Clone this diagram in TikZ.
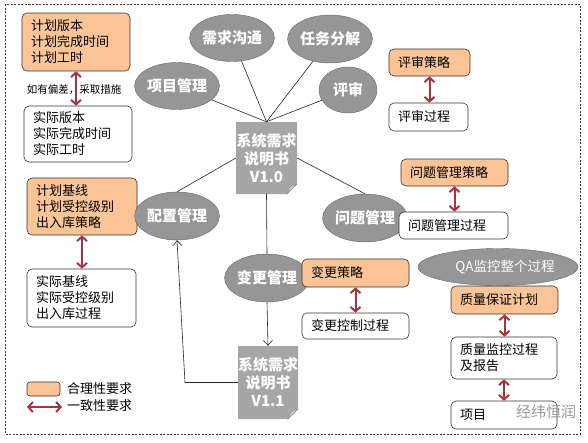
\documentclass[tikz,border=0pt]{standalone}
\usepackage{fontspec}
\setmainfont{Noto Sans CJK SC}
\usetikzlibrary{shapes.geometric,arrows.meta}
\definecolor{planorange}{RGB}{250,196,150}
\definecolor{ellgray}{RGB}{150,150,150}
\definecolor{docgray}{RGB}{166,166,166}
\definecolor{foldgray}{RGB}{208,208,208}
\definecolor{consred}{RGB}{168,50,62}
\tikzset{
  box/.style={draw=black!80,rounded corners=5pt,line width=0.6pt,align=left,inner xsep=9pt,inner ysep=2pt,font=\fontsize{13}{16}\selectfont},
  plan/.style={box,fill=planorange},
  real/.style={box,fill=white},
  func/.style={ellipse,draw=black!60,fill=ellgray,text=white,inner sep=0pt,font=\bfseries\fontsize{15}{17}\selectfont},
  doc/.style={minimum width=61pt,minimum height=72pt,inner sep=0pt,align=center,text=white,
    font=\bfseries\fontsize{15}{18}\selectfont,
    path picture={
      \fill[docgray] (path picture bounding box.north west) -- (path picture bounding box.north east)
        -- ([yshift=10pt]path picture bounding box.south east) -- ([xshift=-10pt]path picture bounding box.south east)
        -- (path picture bounding box.south west) -- cycle;
      \fill[foldgray,draw=black!45,line width=0.4pt] ([yshift=10pt]path picture bounding box.south east)
        -- ([xshift=-10pt]path picture bounding box.south east) -- ([shift={(-7pt,7pt)}]path picture bounding box.south east) -- cycle;}},
  cons/.style={draw=consred,line width=2pt,{Straight Barb[length=4.5pt,width=10pt]}-{Straight Barb[length=4.5pt,width=10pt]}},
  link/.style={draw=black!85,line width=0.6pt},
}
\begin{document}
\begin{tikzpicture}[x=1pt,y=-1pt]
\useasboundingbox (0,0) rectangle (588,442);
\draw[black!80,dash pattern=on 2pt off 1.5pt] (5,4) rectangle (580,434);
% left column
\node[plan,text width=90pt,minimum height=58pt] (jhbb) at (76,42) {计划版本\\计划完成时间\\计划工时};
\node[real,text width=90pt,minimum height=56pt] (sjbb) at (78,134) {实际版本\\实际完成时间\\实际工时};
\node[font=\fontsize{10.5}{12}\selectfont,inner sep=0pt] (pclabel) at (74,90) {如有偏差，采取措施};
\node[plan,text width=92pt,minimum height=57pt] (jhjx) at (82,206.5) {计划基线\\计划受控级别\\出入库策略};
\node[real,text width=91pt,minimum height=58pt] (sjjx) at (81.5,298) {实际基线\\实际受控级别\\出入库过程};
% ellipses round the spec
\node[func,minimum width=68pt,minimum height=47pt] (xmgl) at (177,86) {项目管理};
\node[func,minimum width=67pt,minimum height=47pt] (xqgt) at (232,38) {需求沟通};
\node[func,minimum width=66pt,minimum height=48pt] (rwfj) at (330,39) {任务分解};
\node[func,minimum width=58pt,minimum height=46pt] (ps) at (348,90) {评审};
\node[func,minimum width=69pt,minimum height=48pt] (pzgl) at (177,216) {配置管理};
\node[func,minimum width=66pt,minimum height=48pt] (wtgl) at (365,218) {问题管理};
\node[func,minimum width=64pt,minimum height=48pt] (bggl) at (267,278) {变更管理};
\node[doc] (v10) at (266.5,158) {系统需求\\说明书\\V1.0};
\node[doc,minimum width=60pt,minimum height=73pt] (v11) at (268,382.5) {系统需求\\说明书\\V1.1};
% right side
\node[plan,text width=63pt,minimum height=27pt] (psd) at (429.5,62.5) {评审策略};
\node[real,text width=61pt,minimum height=28pt] (psgc) at (428.5,117) {评审过程};
\node[plan,text width=89pt,minimum height=27pt] (wtcl) at (454.5,172.5) {问题管理策略};
\node[real,text width=91pt,minimum height=27pt] (wtgc) at (453.5,225.5) {问题管理过程};
\node[plan,text width=89pt,minimum height=28pt] (bgcl) at (355.5,273) {变更策略};
\node[real,text width=89pt,minimum height=26pt] (bggc) at (355.5,326) {变更控制过程};
\node[func,minimum width=150pt,minimum height=37pt,font=\fontsize{13.5}{16}\selectfont] (qa) at (498,267) {\hspace*{14pt}QA监控整个过程};
\node[plan,text width=89pt,minimum height=28pt] (zlbz) at (504.5,300) {质量保证计划};
\node[real,text width=88pt,minimum height=42pt] (zljk) at (504,358) {质量监控过程\\及报告};
\node[real,text width=88pt,minimum height=28pt] (xmbg) at (504,415) {项目};
\node[text=black!40,font=\fontsize{15}{17}\selectfont,inner sep=0pt] (wm) at (546,412) {经纬恒润};
% legend
\node[box,fill=planorange,minimum width=33pt,minimum height=14pt,inner sep=0pt,rounded corners=3pt] (lgbox) at (43.5,389) {};
\node[anchor=west,font=\fontsize{13}{15}\selectfont,inner sep=0pt] (lgt1) at (67,389) {合理性要求};
\coordinate (lga) at (27,407);
\coordinate (lgb) at (62,407);
\node[anchor=west,font=\fontsize{13}{15}\selectfont,inner sep=0pt] (lgt2) at (67,406) {一致性要求};
% connectors
\draw[link] (xmgl) -- (v10.north);
\draw[link] (xqgt) -- (v10.north);
\draw[link] (rwfj) -- (v10.north);
\draw[link] (ps) -- (v10.north);
\draw[link] (v10.west) -- (pzgl.north);
\draw[link] (v10.east) -- (wtgl.north);
\draw[link] (v10.south) -- (bggl.north);
\draw[link,-{Straight Barb[length=5pt,width=9pt]}] (bggl.south) -- (v11.north);
\coordinate (turn) at (185,382.5);
\draw[link,-{Straight Barb[length=5pt,width=9pt]}] (v11.west) -- (turn) -- (pzgl.south);
% consistency arrows
\draw[cons] (jhbb.south) -- (jhbb.south |- sjbb.north);
\draw[cons] (jhjx.south) -- (jhjx.south |- sjjx.north);
\draw[cons] (psd.south) -- (psd.south |- psgc.north);
\draw[cons] (wtcl.south) -- (wtcl.south |- wtgc.north);
\draw[cons] (bgcl.south) -- (bgcl.south |- bggc.north);
\draw[cons] (zlbz.south) -- (zlbz.south |- zljk.north);
\draw[cons] (zljk.south) -- (zljk.south |- xmbg.north);
\draw[cons] (lga) -- (lgb);
\end{tikzpicture}
\end{document}
